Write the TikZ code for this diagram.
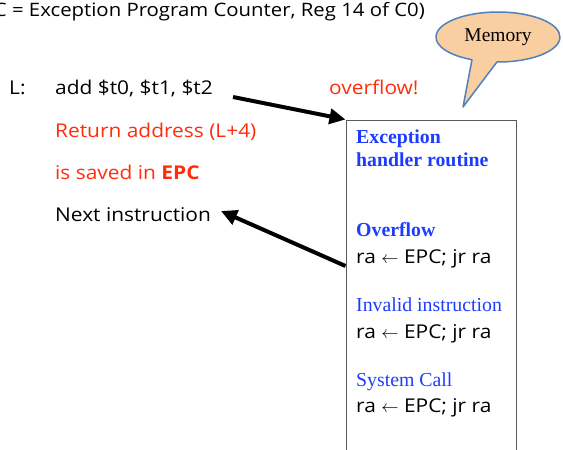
\documentclass[tikz,border=0pt]{standalone}
\usepackage{fontspec}
\setmainfont{Liberation Serif}
\newfontfamily\handfont[FakeStretch=1.1]{Open Sans}
\usetikzlibrary{arrows.meta}
\definecolor{alertred}{RGB}{255,45,10}
\definecolor{headblue}{RGB}{30,60,255}
\definecolor{bubblefill}{RGB}{249,206,160}
\definecolor{bubbleline}{RGB}{79,129,189}
\definecolor{boxline}{RGB}{90,90,90}
\begin{document}
\begin{tikzpicture}[x=1pt,y=-1pt,
  txt/.style={inner sep=0pt, anchor=base west, font=\handfont\fontsize{19}{22}\selectfont},
  hd/.style={inner sep=0pt, anchor=base west, font=\fontsize{19.8}{22}\selectfont\bfseries, text=headblue},
  sub/.style={inner sep=0pt, anchor=base west, font=\fontsize{19.8}{22}\selectfont, text=headblue},
  bigarrow/.style={line width=4pt, -{Triangle[length=16pt,width=15pt]}},
  bubble/.style={fill=bubblefill, draw=bubbleline, line width=1.5pt, line join=round},
  membox/.style={draw=boxline, line width=1.2pt, inner sep=0pt, anchor=north west,
    minimum width=170.5pt, minimum height=350pt},
]
\useasboundingbox (0,0) rectangle (563,450);
\begin{scope}
\clip (0,0) rectangle (563,450);

% heading line (runs off the left edge)
\node[txt, anchor=base east, font=\handfont\fontsize{18.5}{22}\selectfont] (title) at (425,16)
  {C = Exception Program Counter, Reg 14 of C0)};

% program text
\node[txt] (lab) at (9,94.5) {L:};
\node[txt] (add) at (55,94.5) {add \$t0, \$t1, \$t2};
\node[txt, text=alertred] (ret) at (55,137) {Return address (L+4)};
\node[txt, text=alertred] (saved) at (55,179) {is saved in \textbf{EPC}};
\node[txt] (next) at (55,221) {Next instruction};
\node[txt, text=alertred] (ovf) at (329,94.5) {overflow!};

% memory column
\node[membox] (mem) at (345.5,119.5) {};
\node[hd] (exc) at (356,143.3) {Exception};
\node[hd] (hr) at (356,166) {handler routine};
\node[hd] (ov) at (356,236) {Overflow};
\node[txt] (r1) at (356,263.3) {ra $\leftarrow$ EPC; jr ra};
\node[sub] (inv) at (356,311.7) {Invalid instruction};
\node[txt] (r2) at (356,338.3) {ra $\leftarrow$ EPC; jr ra};
\node[sub] (sys) at (356,386) {System Call};
\node[txt] (r3) at (356,412.7) {ra $\leftarrow$ EPC; jr ra};

% callout bubble
\draw[bubble] (496.9,62) arc[start angle=269, end angle=605.2, x radius=62pt, y radius=25pt]
  -- (463,107) -- cycle;
\node[font=\fontsize{19.5}{22}\selectfont] (memlab) at (498,37) {Memory};

% control-flow arrows
\coordinate (jumpin) at (233,97);
\draw[bigarrow] (jumpin) -- (mem.north west);
\coordinate (retfrom) at (345.5,266);
\coordinate (retto) at (221,211);
\draw[bigarrow] (retfrom) -- (retto);
\end{scope}
\end{tikzpicture}
\end{document}
